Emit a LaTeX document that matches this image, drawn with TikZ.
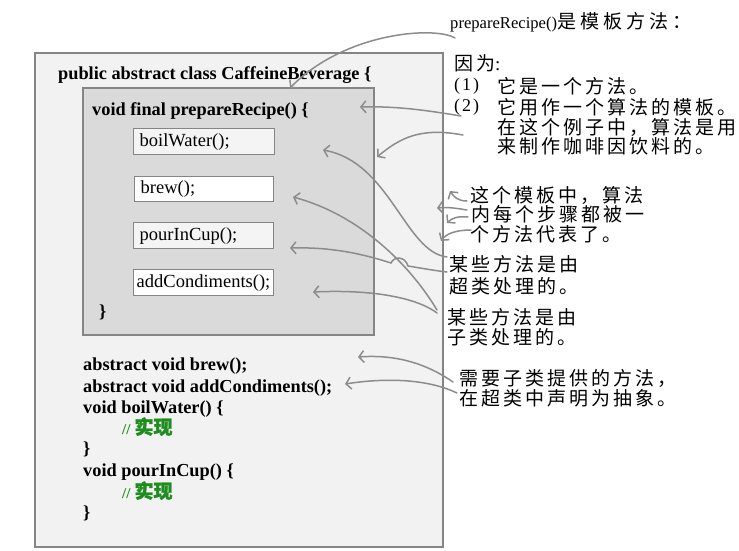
\documentclass[tikz,border=0pt]{standalone}
\usepackage{fontspec}
\setmainfont{Liberation Serif}
\newfontfamily\cjk[LetterSpace=16]{Noto Sans CJK SC}
\newfontfamily\cjkhead[LetterSpace=22]{Noto Sans CJK SC}
\newfontfamily\cjkb[FakeBold=1.5]{Noto Sans CJK SC}
\usetikzlibrary{arrows.meta}
\definecolor{arrowgray}{HTML}{8C8C8C}
\definecolor{boxborder}{HTML}{858585}
\definecolor{outerfill}{HTML}{F2F2F2}
\definecolor{innerfill}{HTML}{DADADA}
\definecolor{mfill}{HTML}{F4F4F4}
\definecolor{cgreen}{HTML}{1E8C1E}
\tikzset{
  codetext/.style={anchor=base west, inner sep=0pt, font=\fontsize{18.3}{21}\selectfont\bfseries},
  methodbox/.style={draw=boxborder, line width=1.4pt, fill=mfill, anchor=north west,
     inner xsep=5pt, inner ysep=0pt, align=left, font=\fontsize{18.5}{21}\selectfont},
  note/.style={anchor=west, inner sep=0pt, font=\fontsize{19}{21}\selectfont\cjk},
  remark/.style={draw=arrowgray, line width=1.5pt, line cap=round,
     -{Straight Barb[length=5pt,width=12pt,line width=1.5pt]}},
  cmt/.style={anchor=base west, inner sep=0pt, text=cgreen, font=\fontsize{15}{18}\selectfont\bfseries}
}
\begin{document}
\begin{tikzpicture}[x=1pt,y=-1pt]
\useasboundingbox (0,0) rectangle (739,550);
\fill[white] (0,0) rectangle (739,550);
% outer class box
\draw[draw=boxborder, line width=1.5pt, fill=outerfill] (35,53) rectangle (443,547);
\node[codetext] (cls) at (58,79) {public abstract class CaffeineBeverage \{};
% inner template box
\draw[draw=boxborder, line width=1.2pt, fill=innerfill] (83,88) rectangle (374,335);
\node[codetext] (tmpl) at (92,115) {void final prepareRecipe() \{};
\node[methodbox, minimum width=141pt, minimum height=26pt, text width=129pt] (bw) at (133,128) {boilWater();};
\node[methodbox, fill=white, minimum width=139pt, minimum height=25pt, text width=127pt] (br) at (134,176) {brew();};
\node[methodbox, minimum width=140pt, minimum height=26pt, text width=128pt] (pc) at (133,222) {pourInCup();};
\node[methodbox, fill=white, minimum width=140pt, minimum height=26pt, text width=134pt, inner xsep=2pt] (ac) at (133,269) {addCondiments();};
\node[codetext] (tmplend) at (99,317) {\}};
% bottom code
\node[codetext] (c1) at (83,370) {abstract void brew();};
\node[codetext] (c2) at (83,392) {abstract void addCondiments();};
\node[codetext] (c3) at (83,413) {void boilWater() \{};
\node[cmt] (c4) at (122,434) {//\hspace{4pt}{\fontsize{19}{20}\selectfont\cjkb 实现}};
\node[codetext] (c5) at (83,454) {\}};
\node[codetext] (c6) at (83,476) {void pourInCup() \{};
\node[cmt] (c7) at (122,498) {//\hspace{4pt}{\fontsize{19}{20}\selectfont\cjkb 实现}};
\node[codetext] (c8) at (83,518) {\}};
% right notes
\node[anchor=west, inner sep=0pt, font=\fontsize{16.6}{20}\selectfont] (t0) at (450,22) {prepareRecipe(){\fontsize{19}{21}\selectfont\cjkhead 是模板方法：}};
\node[note] (t1) at (454,63) {因为{\rmfamily :}};
\node[anchor=west, inner sep=0pt, font=\fontsize{18}{20}\selectfont] (t2a) at (454,86) {(\hspace{2pt}1\hspace{2pt})};
\node[note] (t2) at (497,86) {它是一个方法。};
\node[anchor=west, inner sep=0pt, font=\fontsize{18}{20}\selectfont] (t3a) at (454,107) {(\hspace{2pt}2\hspace{2pt})};
\node[note] (t3) at (497,107) {它用作一个算法的模板。};
\node[note] (t4) at (497,127) {在这个例子中，算法是用};
\node[note] (t5) at (497,146) {来制作咖啡因饮料的。};
\node[note] (t6) at (470,195) {这个模板中，算法};
\node[note] (t7) at (471,214) {内每个步骤都被一};
\node[note] (t8) at (470,234) {个方法代表了。};
\node[note] (sup1) at (449,264) {某些方法是由};
\node[note] (sup2) at (449,286) {超类处理的。};
\node[note] (sub1) at (447,317) {某些方法是由};
\node[note] (sub2) at (447,337) {子类处理的。};
\node[note] (abs1) at (459,378) {需要子类提供的方法，};
\node[note] (abs2) at (459,398) {在超类中声明为抽象。};
% arrow end points
\coordinate (s0) at (455,38);  \coordinate (e0) at (290,88);
\coordinate (s1) at (461,116); \coordinate (e1) at (360,107);
\coordinate (s2) at (463,135); \coordinate (e2) at (377,157);
\coordinate (s3) at (467,201); \coordinate (e3) at (450,191);
\coordinate (s4) at (467,210); \coordinate (e4) at (437,208);
\coordinate (s5) at (468,217); \coordinate (e5) at (447,223);
\coordinate (s6) at (471,230); \coordinate (e6) at (441,241);
\coordinate (s7) at (447,257); \coordinate (e7) at (323,150);
\coordinate (s8) at (437,310); \coordinate (e8) at (293,197);
\coordinate (s9) at (447,272); \coordinate (e9) at (290,248);
\coordinate (s10) at (437,313); \coordinate (e10) at (313,292);
\coordinate (s11) at (453,382); \coordinate (e11) at (358,357);
\coordinate (s12) at (457,393); \coordinate (e12) at (345,384);
\coordinate (h1) at (408,266); \coordinate (h2) at (391,263);
% arrows
\draw[remark] (s0) .. controls (435,26) and (345,32) .. (e0);
\draw[remark] (s1) .. controls (425,110) and (395,106) .. (e1);
\draw[remark] (s2) .. controls (420,127) and (400,138) .. (e2);
\draw[remark] (s3) .. controls (458,201) and (454,197) .. (e3);
\draw[remark] (s4) .. controls (455,208) and (448,207) .. (e4);
\draw[remark] (s5) .. controls (458,216) and (452,218) .. (e5);
\draw[remark] (s6) .. controls (455,230) and (446,234) .. (e6);
\draw[remark] (s7) .. controls (405,252) and (390,162) .. (e7);
\draw[remark] (s8) .. controls (410,265) and (360,215) .. (e8);
\draw[remark] (s9) .. controls (430,270) and (415,267) .. (h1)
   .. controls (405,256) and (394,256) .. (h2)
   .. controls (360,253) and (330,247) .. (e9);
\draw[remark] (s10) .. controls (420,300) and (380,289) .. (e10);
\draw[remark] (s11) .. controls (430,366) and (400,354) .. (e11);
\draw[remark] (s12) .. controls (430,380) and (390,377) .. (e12);
\end{tikzpicture}
\end{document}
